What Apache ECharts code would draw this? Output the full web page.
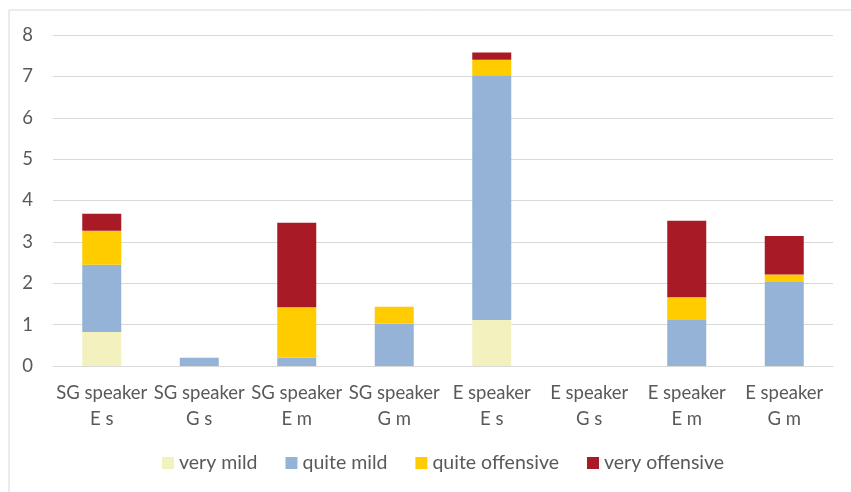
<!DOCTYPE html>
<html>
<head>
<meta charset="utf-8">
<script src="https://cdn.jsdelivr.net/npm/echarts@6/dist/echarts.min.js"></script>
<style>
  html, body { margin: 0; padding: 0; background: #ffffff; }
  #chart { width: 851px; height: 492px; }
</style>
</head>
<body>
<div id="chart"></div>
<script>
// Speaker groups and stimulus conditions along the x axis
const categories = [
  'SG speaker\nE s', 'SG speaker\nG s', 'SG speaker\nE m', 'SG speaker\nG m',
  'E speaker\nE s', 'E speaker\nG s', 'E speaker\nE m', 'E speaker\nG m'
];

// Offensiveness ratings, stacked per group
const veryMild       = [0.82, 0,    0,    0,    1.11, 0, 0,    0];
const quiteMild      = [1.63, 0.20, 0.20, 1.02, 5.92, 0, 1.11, 2.03];
const quiteOffensive = [0.82, 0,    1.22, 0.41, 0.37, 0, 0.55, 0.18];
const veryOffensive  = [0.41, 0,    2.04, 0,    0.18, 0, 1.85, 0.93];

const yTicks = { min: 0, max: 8, interval: 1 };

const seriesNames  = ['very mild', 'quite mild', 'quite offensive', 'very offensive'];
const seriesColors = ['#F3F2BF', '#95B3D7', '#FFCC00', '#A71A26'];
const seriesData   = [veryMild, quiteMild, quiteOffensive, veryOffensive];

const textColor = '#595959';
const fontFamily = 'Lato, "Liberation Sans", sans-serif';

const chart = echarts.init(document.getElementById('chart'), null, { renderer: 'canvas' });

chart.setOption({
  animation: false,
  backgroundColor: '#ffffff',
  textStyle: { fontFamily: fontFamily, color: textColor },
  graphic: [{
    type: 'rect',
    shape: { x: 9, y: 10, width: 900, height: 600 },
    style: { fill: 'none', stroke: '#d9d9d9', lineWidth: 1 },
    silent: true,
    z: -1
  }],
  grid: { left: 53, right: 18, top: 35, bottom: 126, containLabel: false },
  legend: {
    bottom: 14,
    left: 157,
    itemWidth: 12,
    itemHeight: 12,
    itemGap: 28,
    icon: 'rect',
    textStyle: { fontSize: 19.5, color: textColor, fontFamily: fontFamily },
    data: seriesNames
  },
  xAxis: {
    type: 'category',
    data: categories,
    axisLine: { show: true, lineStyle: { color: '#d9d9d9', width: 1 } },
    axisTick: { show: false },
    axisLabel: {
      interval: 0,
      color: textColor,
      fontSize: 18.5,
      lineHeight: 26,
      margin: 14,
      fontFamily: fontFamily
    }
  },
  yAxis: {
    type: 'value',
    min: yTicks.min,
    max: yTicks.max,
    interval: yTicks.interval,
    axisLine: { show: false },
    axisTick: { show: false },
    splitLine: { lineStyle: { color: '#d9d9d9', width: 1 } },
    axisLabel: { color: textColor, fontSize: 18.5, margin: 20, fontFamily: fontFamily }
  },
  series: seriesNames.map((name, i) => ({
    name: name,
    type: 'bar',
    stack: 'total',
    barWidth: '40%',
    itemStyle: { color: seriesColors[i] },
    data: seriesData[i]
  }))
});
</script>
</body>
</html>
